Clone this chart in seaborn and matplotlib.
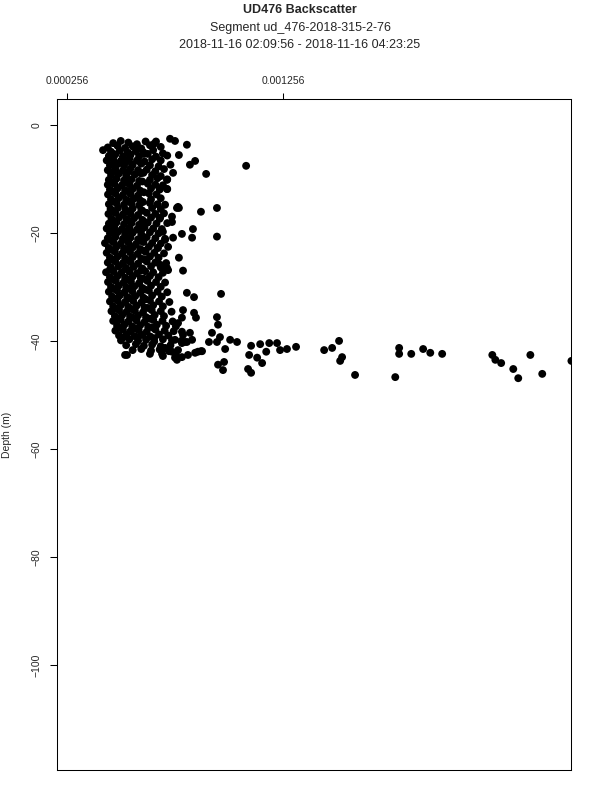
import numpy as np
import pandas as pd
import seaborn as sns
import matplotlib
matplotlib.use("Agg")
import matplotlib.pyplot as plt

# backscatter values are in units of 1e-6, depth in metres
cluster_bs = [
    470, 505, 540, 580, 620, 660,
    445, 490, 525, 560, 600, 640, 690,
    423, 460, 500, 535, 575, 610, 655, 700,
    450, 480, 515, 550, 590, 630, 668, 720,
    440, 470, 505, 545, 580, 615, 650, 690,
    455, 490, 520, 560, 600, 640, 680, 735,
    445, 480, 515, 550, 585, 625, 665, 705,
    460, 495, 530, 570, 598, 650, 690,
    450, 485, 520, 555, 590, 640, 675, 720,
    445, 475, 510, 545, 580, 630, 665, 700,
    455, 490, 525, 560, 595, 645, 685, 720,
    446, 480, 515, 550, 585, 635, 670,
    460, 495, 530, 565, 595, 645, 690,
    450, 485, 520, 555, 590, 640, 675, 710,
    458, 492, 527, 560, 600, 650, 690,
    448, 480, 515, 550, 585, 625, 665, 705,
    462, 497, 532, 567, 605, 645, 685,
    450, 485, 520, 555, 590, 630, 670, 720,
    440, 475, 510, 545, 580, 615, 655, 695,
    455, 490, 525, 560, 600, 640, 680,
    445, 480, 515, 550, 585, 625, 665, 710,
    432, 470, 505, 540, 575, 610, 650, 690,
    450, 485, 520, 560, 595, 635, 675,
    440, 478, 512, 548, 583, 620, 660, 705,
    455, 490, 525, 560, 600, 640, 680,
    445, 480, 515, 550, 585, 625, 665, 715,
    460, 495, 530, 565, 605, 645, 690,
    437, 472, 508, 545, 580, 618, 655, 700,
    455, 490, 525, 560, 598, 640, 680,
    446, 482, 518, 552, 590, 628, 668, 710,
    460, 495, 530, 568, 605, 645, 690,
    450, 488, 522, 558, 595, 635, 675, 720,
    465, 500, 535, 572, 610, 650, 695,
    455, 490, 525, 562, 600, 640, 682, 730,
    470, 505, 540, 578, 615, 655, 700,
    462, 497, 532, 570, 608, 648, 690, 740,
    478, 512, 548, 585, 622, 662, 705,
    470, 505, 540, 578, 615, 655, 698, 745,
    488, 522, 558, 595, 632, 672, 715, 760,
    480, 515, 550, 588, 625, 665, 708, 750,
    497, 532, 568, 605, 642, 682, 725,
    506, 545, 585, 622, 660, 700, 742, 785,
    530, 575, 612, 650, 690, 735,
    560, 600, 645, 685, 728, 770,
    525, 640, 700, 760,
]
cluster_depth = [
    -3.4, -3.0, -3.3, -3.6, -3.1, -3.5,
    -4.2, -3.9, -4.3, -4.0, -4.4, -3.8, -4.1,
    -4.7, -5.0, -4.8, -5.2, -4.9, -5.1, -4.7, -5.3,
    -5.8, -5.5, -5.9, -5.6, -5.8, -5.4, -5.9, -5.7,
    -6.6, -6.4, -6.7, -6.3, -6.6, -6.8, -6.4, -6.6,
    -7.5, -7.3, -7.6, -7.4, -7.2, -7.5, -7.7, -7.4,
    -8.4, -8.2, -8.5, -8.1, -8.4, -8.3, -8.6, -8.2,
    -9.3, -9.1, -9.4, -9.2, -9.0, -9.3, -9.5,
    -10.2, -10.0, -10.3, -10.1, -10.4, -10.2, -9.9, -10.1,
    -11.1, -10.9, -11.2, -11.0, -11.3, -10.9, -11.1, -11.2,
    -12.0, -11.8, -12.1, -11.9, -12.2, -11.8, -12.0, -11.9,
    -12.9, -12.7, -13.0, -12.8, -13.1, -12.7, -12.9,
    -13.8, -13.6, -13.9, -13.7, -14.0, -13.8, -13.6,
    -14.7, -14.5, -14.8, -14.6, -14.9, -14.5, -14.7, -14.8,
    -15.6, -15.4, -15.7, -15.5, -15.8, -15.4, -15.6,
    -16.5, -16.3, -16.6, -16.4, -16.7, -16.3, -16.5, -16.4,
    -17.4, -17.2, -17.5, -17.3, -17.6, -17.2, -17.4,
    -18.3, -18.1, -18.4, -18.2, -18.5, -18.1, -18.3, -18.2,
    -19.2, -19.0, -19.3, -19.1, -19.4, -19.0, -19.2, -19.3,
    -20.1, -19.9, -20.2, -20.0, -20.3, -19.9, -20.1,
    -21.0, -20.8, -21.1, -20.9, -21.2, -20.8, -21.0, -21.1,
    -21.9, -21.7, -22.0, -21.8, -22.1, -21.7, -21.9, -22.0,
    -22.8, -22.6, -22.9, -22.7, -23.0, -22.6, -22.8,
    -23.7, -23.5, -23.8, -23.6, -23.9, -23.5, -23.7, -23.8,
    -24.6, -24.4, -24.7, -24.5, -24.8, -24.4, -24.6,
    -25.5, -25.3, -25.6, -25.4, -25.7, -25.3, -25.5, -25.6,
    -26.4, -26.2, -26.5, -26.3, -26.6, -26.2, -26.4,
    -27.3, -27.1, -27.4, -27.2, -27.5, -27.1, -27.3, -27.4,
    -28.2, -28.0, -28.3, -28.1, -28.4, -28.0, -28.2,
    -29.1, -28.9, -29.2, -29.0, -29.3, -28.9, -29.1, -29.2,
    -30.0, -29.8, -30.1, -29.9, -30.2, -29.8, -30.0,
    -30.9, -30.7, -31.0, -30.8, -31.1, -30.7, -30.9, -31.0,
    -31.8, -31.6, -31.9, -31.7, -32.0, -31.6, -31.8,
    -32.7, -32.5, -32.8, -32.6, -32.9, -32.5, -32.7, -32.8,
    -33.6, -33.4, -33.7, -33.5, -33.8, -33.4, -33.6,
    -34.5, -34.3, -34.6, -34.4, -34.7, -34.3, -34.5, -34.6,
    -35.4, -35.2, -35.5, -35.3, -35.6, -35.2, -35.4,
    -36.3, -36.1, -36.4, -36.2, -36.5, -36.1, -36.3, -36.4,
    -37.2, -37.0, -37.3, -37.1, -37.4, -37.0, -37.2, -37.3,
    -38.1, -37.9, -38.2, -38.0, -38.3, -37.9, -38.1, -38.2,
    -39.0, -38.8, -39.1, -38.9, -39.2, -38.8, -39.0,
    -39.9, -39.7, -40.0, -39.8, -40.1, -39.7, -39.9, -40.0,
    -40.8, -40.6, -40.9, -40.7, -41.0, -40.8,
    -41.7, -41.5, -41.8, -41.6, -41.9, -41.7,
    -42.6, -42.4, -42.8, -42.5,
]

# extra points in the densest part of the core
core_bs = [
    465, 540, 612,
    475, 530, 598,
    463, 540, 610,
    468, 535, 605,
    470, 540, 612,
    468, 538, 608,
    465, 532, 605,
    470, 540, 612,
    463, 530, 600,
    462, 532, 600,
    468, 538, 612,
    470, 540, 612,
    455, 528, 600,
    470, 540, 612,
    475, 545, 618,
    478, 545, 620,
    482, 555, 630,
    490, 560, 640,
    500, 572, 650,
    515, 585, 660,
]
core_depth = [
    -5.3, -5.2, -5.4,
    -7.0, -6.9, -7.1,
    -8.8, -8.7, -8.9,
    -10.6, -10.7, -10.5,
    -12.4, -12.3, -12.5,
    -14.2, -14.1, -14.3,
    -16.0, -16.1, -15.9,
    -17.8, -17.7, -17.9,
    -19.6, -19.7, -19.5,
    -21.4, -21.3, -21.5,
    -23.2, -23.1, -23.3,
    -25.0, -25.1, -24.9,
    -26.8, -26.7, -26.9,
    -28.6, -28.7, -28.5,
    -30.4, -30.3, -30.5,
    -32.2, -32.1, -32.3,
    -34.0, -34.1, -33.9,
    -35.8, -35.7, -35.9,
    -37.6, -37.7, -37.5,
    -39.4, -39.3, -39.5,
]

outlier_bs = [
    733, 756, 811, 668, 774, 849, 825, 900, 1085, 719,
    774, 876, 950, 742, 839, 835, 950, 788, 747, 774,
    793, 724, 811, 969, 844, 844, 853, 950, 955, 793,
    927, 913, 964, 950, 788, 793, 825, 788, 811, 816,
    849, 876, 988, 1011, 1043, 955, 978, 983, 1108, 1150,
    1192, 1228, 1242, 1274, 1316, 1099, 1136, 1159, 1178, 1094,
    1108, 1446, 1483, 1515, 1529, 1520, 1589, 1775, 1793, 1793,
    1849, 1904, 1937, 1992, 2224, 2238, 2265, 2321, 2344, 2400,
    2455, 2590, 534, 696, 756, 788, 719, 687, 710, 677,
    724, 700, 742, 687, 765, 770, 719, 747, 770, 788,
    756, 802, 835, 710, 742, 765, 862, 881,
]
outlier_depth = [
    -2.6, -3.0, -3.7, -3.1, -5.6, -6.7, -7.4, -9.1, -7.6, -11.9,
    -15.4, -16.1, -15.4, -17.0, -19.3, -20.9, -20.7, -20.2, -20.9, -24.6,
    -27.0, -26.9, -31.1, -31.3, -31.9, -34.8, -35.7, -35.6, -37.0, -34.3,
    -38.5, -40.2, -39.3, -40.2, -38.3, -38.9, -38.5, -40.4, -40.2, -42.6,
    -42.2, -41.9, -41.5, -39.8, -40.2, -44.4, -45.4, -43.9, -40.9, -40.6,
    -40.4, -40.4, -41.7, -41.5, -41.1, -42.6, -43.1, -44.1, -42.0, -45.2,
    -45.9, -41.7, -41.3, -40.0, -43.0, -43.7, -46.3, -46.7, -41.3, -42.4,
    -42.4, -41.5, -42.2, -42.4, -42.6, -43.5, -44.1, -45.2, -46.9, -42.6,
    -46.1, -43.7, -42.6, -42.4, -43.1, -43.0, -26.5, -25.9, -21.3, -22.8,
    -22.6, -19.8, -18.0, -17.2, -15.4, -15.2, -10.2, -8.9, -36.7, -35.7,
    -39.8, -40.2, -39.8, -41.3, -42.0, -43.5, -42.0, -41.9,
]

x_ticks = [0.000256, 0.001256]
x_tick_labels = ["0.000256", "0.001256"]
y_ticks = [0, -20, -40, -60, -80, -100]

df = pd.DataFrame({
    "backscatter": np.array(cluster_bs + core_bs + outlier_bs) * 1e-6,
    "depth": cluster_depth + core_depth + outlier_depth,
})

sns.set_style("ticks")
plt.rcParams["font.family"] = ["Liberation Sans", "DejaVu Sans"]

fig = plt.figure(figsize=(6, 8), dpi=100)
ax = fig.add_axes([0.095, 0.0375, 0.857, 0.839])

sns.scatterplot(data=df, x="backscatter", y="depth", ax=ax,
                color="black", s=32, linewidth=0, edgecolor="none")

ax.set_xlim(0.00021, 0.002589)
ax.set_ylim(-119.4, 4.8)

ax.xaxis.tick_top()
ax.set_xticks(x_ticks)
ax.set_xticklabels(x_tick_labels)
ax.set_yticks(y_ticks)
ax.set_yticklabels([str(v).replace("-", "\u2212") for v in y_ticks],
                   rotation=90, va="center")
ax.tick_params(axis="x", length=4.3, width=0.75, pad=5, labelsize=7.5,
               color="black")
ax.tick_params(axis="y", length=5, width=0.75, pad=6, labelsize=7.5,
               color="black")
ax.set_xlabel("")
ax.set_ylabel("Depth (m)", fontsize=7.5, labelpad=14)
for sp in ax.spines.values():
    sp.set_visible(True)
    sp.set_linewidth(0.75)
    sp.set_color("black")

fig.text(0.5, 0.9875, "UD476 Backscatter", ha="center", va="center",
         fontsize=9, fontweight="bold")
fig.text(0.5, 0.965, "Segment ud_476-2018-315-2-76", ha="center",
         va="center", fontsize=9)
fig.text(0.5, 0.944, "2018-11-16 02:09:56 - 2018-11-16 04:23:25",
         ha="center", va="center", fontsize=9)

plt.savefig("out.png", dpi=100)
